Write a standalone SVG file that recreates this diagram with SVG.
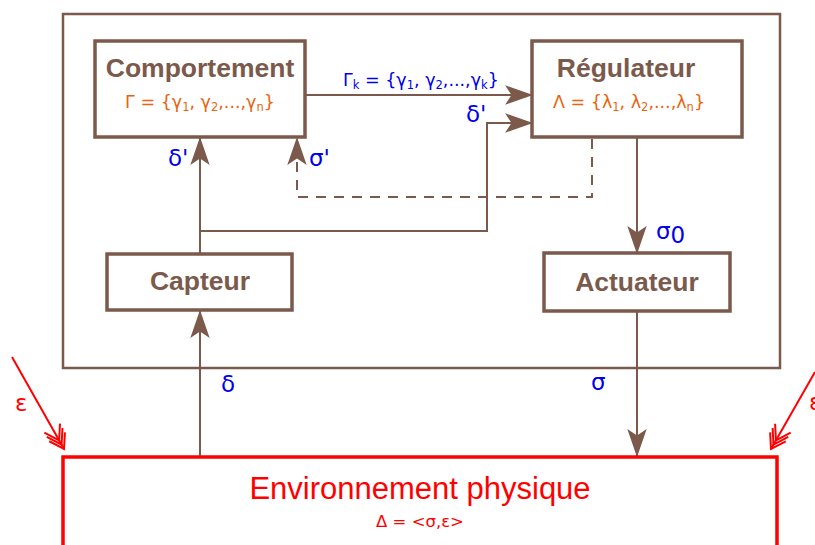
<svg xmlns="http://www.w3.org/2000/svg" width="815" height="545" viewBox="0 0 815 545">
<style>
.box{fill:#fff;stroke:#7b5a4c;stroke-width:3.5}
.frame{fill:none;stroke:#7b5a4c;stroke-width:2.5}
.env{fill:#fff;stroke:#ff0000;stroke-width:3.5}
.title{font-family:"Liberation Sans",Arial,sans-serif;font-weight:bold;font-size:26.5px;fill:#7b5a4c;text-anchor:middle}
.set{font-family:"DejaVu Sans",sans-serif;font-size:17.5px;fill:#e8650f}
.lbl{font-family:"DejaVu Sans",sans-serif;fill:#0000ee}
.conn{fill:none;stroke:#7b5a4c;stroke-width:2}
.dash{fill:none;stroke:#7b5a4c;stroke-width:2;stroke-dasharray:10,8}
.eps{fill:none;stroke:#ff0000;stroke-width:2}
</style>
<defs>
<marker id="arr" markerUnits="userSpaceOnUse" markerWidth="28" markerHeight="20" viewBox="0 0 26 18" refX="25" refY="9" orient="auto">
<path d="M0,0 L26,9 L0,18 L6,9 z" fill="#7b5a4c"/>
</marker>
<marker id="chev" markerUnits="userSpaceOnUse" markerWidth="30" markerHeight="22" viewBox="-28 -11 30 22" refX="0" refY="0" orient="auto">
<path d="M-14,-9 L0,0 L-14,9 M-19,-9 L-5,0 L-19,9 M-24,-9 L-10,0 L-24,9" fill="none" stroke="#ff0000" stroke-width="2"/>
</marker>
</defs>
<rect class="frame" x="63" y="14" width="717" height="354"/>
<g id="connectors">
<path class="conn" d="M305,95 L532,95" marker-end="url(#arr)"/>
<path class="conn" d="M200,254 L200,138" marker-end="url(#arr)"/>
<path class="conn" d="M200,231 L487,231 L487,123 L532,123" marker-end="url(#arr)"/>
<path class="dash" d="M592,139 L592,197 L297,197 L297,138" marker-end="url(#arr)"/>
<path class="conn" d="M637,137 L637,253" marker-end="url(#arr)"/>
<path class="conn" d="M200,457 L200,311" marker-end="url(#arr)"/>
<path class="conn" d="M637,311 L637,456" marker-end="url(#arr)"/>
<path class="eps" d="M12,357 L64,449" marker-end="url(#chev)"/>
<path class="eps" d="M815,372 L771,449" marker-end="url(#chev)"/>
<text class="lbl" x="343" y="86" font-size="17.5">Γ<tspan font-size="11.5" dy="3">k</tspan><tspan dy="-3"> = {γ</tspan><tspan font-size="11.5" dy="3">1</tspan><tspan dy="-3">, γ</tspan><tspan font-size="11.5" dy="3">2</tspan><tspan dy="-3">,...,γ</tspan><tspan font-size="11.5" dy="3">k</tspan><tspan dy="-3">}</tspan></text>
<text class="lbl" x="466" y="122" font-size="23">δ'</text>
<text class="lbl" x="168" y="166" font-size="23">δ'</text>
<text class="lbl" x="309" y="166" font-size="23">σ'</text>
<text class="lbl" x="656" y="239" font-size="23">σ<tspan dy="4">0</tspan></text>
<text class="lbl" x="221" y="392" font-size="23">δ</text>
<text class="lbl" x="591" y="390" font-size="23">σ</text>
<text x="15" y="411" font-family="DejaVu Sans,sans-serif" font-size="23" fill="#ff0000">ε</text>
<text x="809" y="410" font-family="DejaVu Sans,sans-serif" font-size="23" fill="#ff0000">ε</text>
</g>
<g id="comportement">
<rect class="box" x="95" y="41" width="210" height="96"/>
<text class="title" x="200" y="77">Comportement</text>
<text class="set" x="200" y="108" text-anchor="middle">Γ = {γ<tspan font-size="11.5" dy="3">1</tspan><tspan dy="-3">, γ</tspan><tspan font-size="11.5" dy="3">2</tspan><tspan dy="-3">,...,γ</tspan><tspan font-size="11.5" dy="3">n</tspan><tspan dy="-3">}</tspan></text>
</g>
<g id="regulateur">
<rect class="box" x="532" y="41" width="210" height="96"/>
<text class="title" x="626" y="77">Régulateur</text>
<text class="set" x="553" y="108">Λ = {λ<tspan font-size="11.5" dy="3">1</tspan><tspan dy="-3">, λ</tspan><tspan font-size="11.5" dy="3">2</tspan><tspan dy="-3">,...,λ</tspan><tspan font-size="11.5" dy="3">n</tspan><tspan dy="-3">}</tspan></text>
</g>
<g id="capteur">
<rect class="box" x="107" y="254" width="185" height="56"/>
<text class="title" x="200" y="290">Capteur</text>
</g>
<g id="actuateur">
<rect class="box" x="544" y="253" width="186" height="58"/>
<text class="title" x="637" y="291">Actuateur</text>
</g>
<g id="environnement">
<rect class="env" x="63" y="457" width="714" height="100"/>
<text x="420" y="499" font-family="Liberation Sans,Arial,sans-serif" font-size="31" fill="#ff0000" text-anchor="middle">Environnement physique</text>
<text x="420" y="527" font-family="DejaVu Sans,sans-serif" font-size="16.5" fill="#ff0000" text-anchor="middle">Δ = &lt;σ,ε&gt;</text>
</g>
</svg>
